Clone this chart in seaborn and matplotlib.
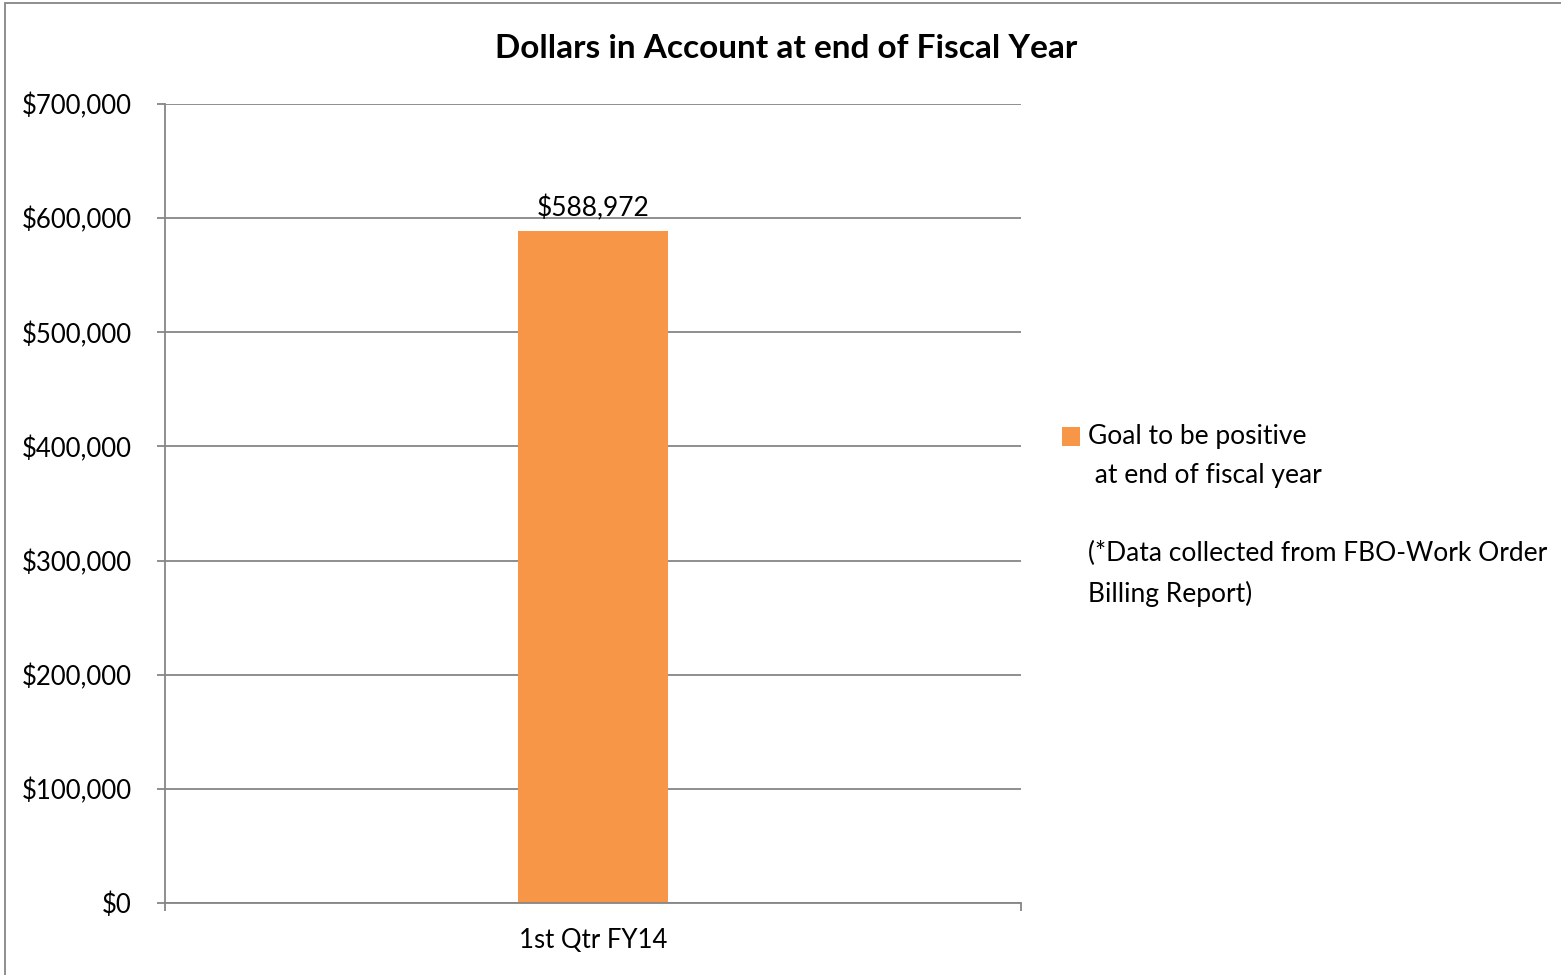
import matplotlib
matplotlib.use("Agg")
import matplotlib.pyplot as plt
from matplotlib.patches import Rectangle
from matplotlib.ticker import FuncFormatter, MultipleLocator
import seaborn as sns
import pandas as pd

quarters = ["1st Qtr FY14"]
dollars = [588972]
series_name = "Goal to be positive\n at end of fiscal year\n\n(*Data collected from FBO-Work Order\nBilling Report)"

sns.set_theme(style="white")
plt.rcParams["font.family"] = ["Lato", "DejaVu Sans"]

df = pd.DataFrame({"quarter": quarters, "dollars": dollars})

fig = plt.figure(figsize=(15.61, 9.75), dpi=100)
ax = fig.add_axes([165 / 1561, 1 - 903 / 975, 856 / 1561, 799 / 975])

bar_color = "#F79646"
grid_color = "#868686"

sns.barplot(data=df, x="quarter", y="dollars", color=bar_color, width=0.175,
            saturation=1, linewidth=0, ax=ax)

ax.set_xlim(-0.5, 0.5)
ax.set_ylim(0, 700000)
ax.yaxis.set_major_locator(MultipleLocator(100000))
ax.yaxis.set_major_formatter(FuncFormatter(lambda v, p: f"${v:,.0f}"))
ax.set_xlabel("")
ax.set_ylabel("")

ax.yaxis.grid(True, color=grid_color, linewidth=1.3)
ax.set_axisbelow(True)
for side in ("top", "right"):
    ax.spines[side].set_visible(False)
for side in ("left", "bottom"):
    ax.spines[side].set_color(grid_color)
    ax.spines[side].set_linewidth(1.3)

ax.tick_params(axis="y", which="major", left=True, length=6, width=1.3,
               color=grid_color, labelsize=18.5, pad=18, labelcolor="black")
ax.tick_params(axis="x", which="major", bottom=False, labelsize=18.5, pad=12,
               labelcolor="black")
# category boundary tick marks on the x axis
ax.set_xticks([-0.5, 0.5], minor=True)
ax.tick_params(axis="x", which="minor", bottom=True, length=6, width=1.3,
               color=grid_color)

for bar, v in zip(ax.patches, dollars):
    ax.annotate(f"${v:,.0f}", (bar.get_x() + bar.get_width() / 2, v),
                xytext=(0, 7), textcoords="offset points",
                ha="center", va="bottom", fontsize=19, color="black")

fig.text(786 / 1561, 1 - 48 / 975, "Dollars in Account at end of Fiscal Year",
         ha="center", va="center", fontsize=24, fontweight="bold", color="black")

# legend entry
fig.patches.append(Rectangle((1062 / 1561, 1 - 446 / 975), 18 / 1561, 19 / 975,
                             transform=fig.transFigure, facecolor=bar_color,
                             edgecolor="none"))
fig.text(1088 / 1561, 1 - 424 / 975, series_name, ha="left", va="top",
         fontsize=19, color="black", linespacing=1.7,
         transform=fig.transFigure)

# outer chart frame
fig.patches.append(Rectangle((5 / 1561, -0.05), 1.2, 1 - 3 / 975 + 0.05,
                             transform=fig.transFigure, fill=False,
                             edgecolor=grid_color, linewidth=1.3))

fig.savefig("out.png", dpi=100)
